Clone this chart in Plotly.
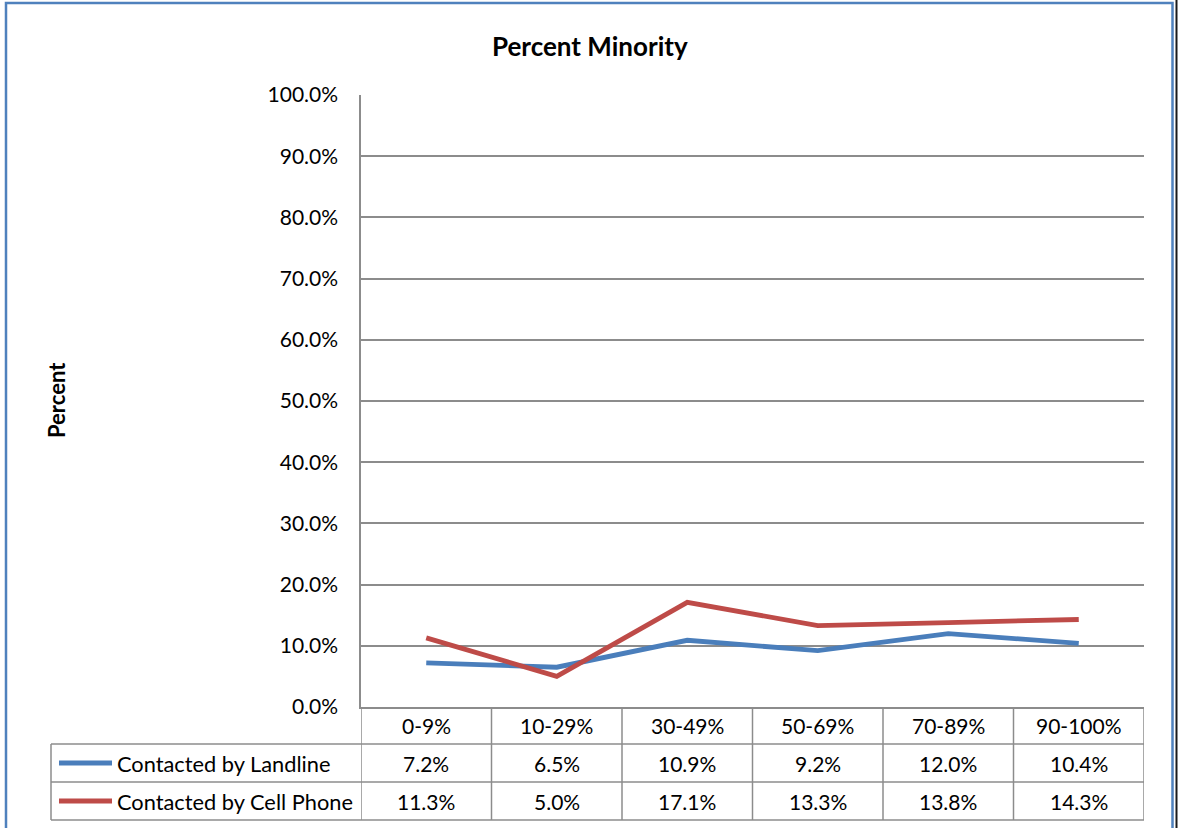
import plotly.graph_objects as go

# Survey results by share of minority residents in the area
categories = ["0-9%", "10-29%", "30-49%", "50-69%", "70-89%", "90-100%"]
landline = [7.2, 6.5, 10.9, 9.2, 12.0, 10.4]
cell_phone = [11.3, 5.0, 17.1, 13.3, 13.8, 14.3]
series_names = ["Contacted by Landline", "Contacted by Cell Phone"]
y_ticks = [0, 10, 20, 30, 40, 50, 60, 70, 80, 90, 100]
y_tick_labels = [f"{v:.1f}%" for v in y_ticks]

W, H = 1178, 828
BLUE = "#4A7EBB"
RED = "#BE4B48"
GRID = "#8C8C8C"
FONT = "Lato"


def px(x):
    return x / W


def py(y):
    return 1 - y / H


# plot area and data-table geometry (pixels)
PL, PR, PT, PB = 361, 1144, 95, 707
ROW1, ROW2, ROW3 = 744, 782, 820
LEG_L = 51

fig = go.Figure()
for name, vals, col in [(series_names[0], landline, BLUE), (series_names[1], cell_phone, RED)]:
    fig.add_trace(go.Scatter(
        x=list(range(len(categories))), y=vals, mode="lines", name=name,
        line=dict(color=col, width=4.8), showlegend=False, hoverinfo="skip",
    ))

shapes = []
line_style = dict(color=GRID, width=1.5)

# table horizontal rules
for yy in (ROW1, ROW2, ROW3):
    shapes.append(dict(type="line", xref="paper", yref="paper",
                       x0=px(LEG_L), x1=px(PR), y0=py(yy), y1=py(yy), line=line_style))
# table vertical rules on category boundaries
for i in range(len(categories) + 1):
    shapes.append(dict(type="line", xref="x", yref="paper",
                       x0=i - 0.5, x1=i - 0.5, y0=py(PB), y1=py(ROW3), line=line_style))
# legend cell left edge
shapes.append(dict(type="line", xref="paper", yref="paper",
                   x0=px(LEG_L), x1=px(LEG_L), y0=py(ROW1), y1=py(ROW3), line=line_style))
# legend keys
for (y0, y1), col in [((ROW1, ROW2), BLUE), ((ROW2, ROW3), RED)]:
    yc = (y0 + y1) / 2
    shapes.append(dict(type="line", xref="paper", yref="paper",
                       x0=px(59), x1=px(112), y0=py(yc), y1=py(yc),
                       line=dict(color=col, width=4.8)))
# outer frame
shapes.append(dict(type="rect", xref="paper", yref="paper",
                   x0=px(6), x1=px(1172.5), y0=py(3), y1=py(H + 10),
                   line=dict(color="#4F81BD", width=2.5)))
shapes.append(dict(type="line", xref="paper", yref="paper",
                   x0=px(1176.5), x1=px(1176.5), y0=py(0), y1=py(H),
                   line=dict(color="#1A1A1A", width=2)))

annotations = []
cell_font = dict(family=FONT, size=21, color="#000000")


def cell(x, y, text, xref="x", xanchor="center", font=cell_font, **kw):
    annotations.append(dict(x=x, y=y, xref=xref, yref="paper", text=text,
                            showarrow=False, xanchor=xanchor, yanchor="middle",
                            font=font, **kw))


for i, c in enumerate(categories):
    cell(i, py((PB + ROW1) / 2), c)
    cell(i, py((ROW1 + ROW2) / 2), f"{landline[i]:.1f}%")
    cell(i, py((ROW2 + ROW3) / 2), f"{cell_phone[i]:.1f}%")
for name, (y0, y1) in zip(series_names, [(ROW1, ROW2), (ROW2, ROW3)]):
    cell(px(115), py((y0 + y1) / 2), name, xref="paper", xanchor="left",
         font=dict(family=FONT, size=21.8, color="#000000"))
cell(px(590), py(46), "<b>Percent Minority</b>", xref="paper",
     font=dict(family=FONT, size=26, color="#000000"))
cell(px(57), py(400), "<b>Percent</b>", xref="paper", textangle=-90,
     font=dict(family=FONT, size=22, color="#000000"))

fig.update_layout(
    width=W, height=H,
    margin=dict(l=0, r=0, t=0, b=0, pad=0, autoexpand=False),
    paper_bgcolor="white", plot_bgcolor="white",
    shapes=shapes, annotations=annotations,
    xaxis=dict(domain=[px(PL), px(PR)], range=[-0.5, len(categories) - 0.5],
               showticklabels=False, showgrid=False, zeroline=False,
               showline=True, linecolor=GRID, linewidth=1.5),
    yaxis=dict(domain=[py(PB), py(PT)], range=[0, 100], tickvals=y_ticks,
               ticktext=y_tick_labels, showgrid=True, gridcolor=GRID,
               gridwidth=1.5, zeroline=False, showline=True, linecolor=GRID,
               linewidth=1.5, ticks="", ticklabelstandoff=17,
               tickfont=dict(family=FONT, size=21, color="#000000")),
)

fig.write_html("out.html")
